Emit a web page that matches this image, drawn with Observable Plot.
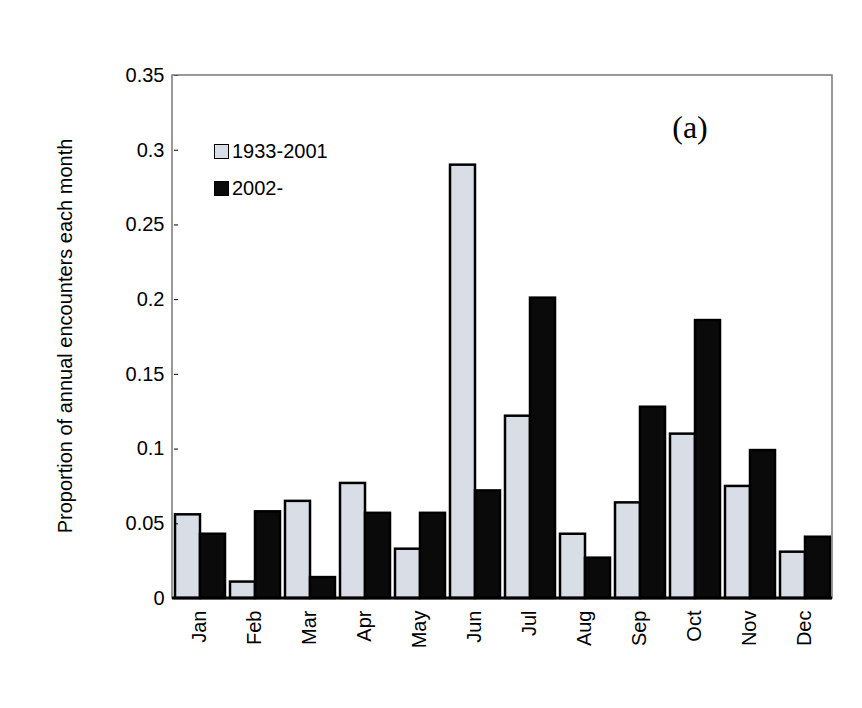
<!DOCTYPE html>
<html><head><meta charset="utf-8">
<script src="https://cdn.jsdelivr.net/npm/d3@7"></script>
<script src="https://cdn.jsdelivr.net/npm/@observablehq/plot@0.6"></script>
<style>
body{margin:0;background:#fff;font-family:"Liberation Sans",Arial,sans-serif;}
#wrap{position:relative;width:862px;height:708px;}
.lg{position:absolute;font-size:20px;display:flex;align-items:center;}
.sw{width:13px;height:13px;border:1.5px solid #000;margin-right:3px;}
</style></head><body>
<div id="wrap"></div>
<script>
const months=["Jan","Feb","Mar","Apr","May","Jun","Jul","Aug","Sep","Oct","Nov","Dec"];
const series=["1933-2001","2002-"];
const early=[0.056,0.011,0.065,0.077,0.033,0.29,0.122,0.043,0.064,0.11,0.075,0.031];
const late=[0.043,0.058,0.014,0.057,0.057,0.072,0.201,0.027,0.128,0.186,0.099,0.041];
const yTicks=[0,0.05,0.1,0.15,0.2,0.25,0.3,0.35];
const yTitle="Proportion of annual encounters each month";
const data=[];
months.forEach((m,i)=>{data.push({month:m,series:series[0],value:early[i]});data.push({month:m,series:series[1],value:late[i]});});
const fmt=d=>String(+d.toFixed(2));
const chart=Plot.plot({
  width:862,height:708,marginLeft:172,marginRight:30,marginTop:75,marginBottom:110,
  style:{fontFamily:"Liberation Sans, Arial, sans-serif",fontSize:"20px",background:"#fff"},
  fx:{domain:months,paddingInner:0.08,paddingOuter:0.0,label:null,axis:null},
  x:{domain:series,padding:0,axis:null},
  y:{domain:[0,0.35],label:null,axis:null},
  color:{domain:series,range:["#d9dde5","#0a0a0a"]},
  marks:[
    Plot.barY(data,{fx:"month",x:"series",y:"value",fill:"series",stroke:"#000",strokeWidth:2.5}),
    Plot.axisFx({anchor:"bottom",tickRotate:-90,tickSize:0,tickPadding:12,fontSize:20,label:null}),
    Plot.axisY(yTicks,{tickSize:-4,tickPadding:14,fontSize:20,tickFormat:fmt,label:null})
  ]
});
document.getElementById("wrap").appendChild(chart);
const svg=d3.select(chart);
svg.append("rect").attr("x",172).attr("y",75).attr("width",660).attr("height",523).attr("fill","none").attr("stroke","#777").attr("stroke-width",1.5);
svg.append("line").attr("x1",172).attr("x2",832).attr("y1",598).attr("y2",598).attr("stroke","#000").attr("stroke-width",3);
svg.append("text").attr("transform","translate(72,336) rotate(-90)").attr("text-anchor","middle").attr("font-family","Liberation Sans, Arial, sans-serif").attr("font-size",20).text(yTitle);
svg.append("text").attr("x",690).attr("y",138).attr("font-family","Liberation Serif, serif").attr("font-size",32).text("(a)");
const w=document.getElementById("wrap");
w.insertAdjacentHTML("beforeend",`<div class="lg" style="left:214px;top:140px"><div class="sw" style="background:#d9dde5"></div>${series[0]}</div>
<div class="lg" style="left:214px;top:177px"><div class="sw" style="background:#0a0a0a"></div>${series[1]}</div>`);
</script></body></html>
